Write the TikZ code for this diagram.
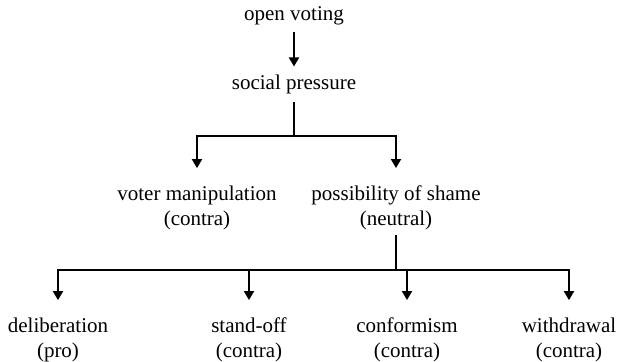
\documentclass[tikz,border=0pt]{standalone}
\usepackage{fontspec}
\setmainfont{Liberation Serif}
\usetikzlibrary{arrows.meta,positioning}

\begin{document}
\begin{tikzpicture}[
  x=0.5pt, y=-0.5pt,
  lbl/.style={font=\fontsize{10.5}{12.3}\selectfont, align=center, inner sep=0pt, outer sep=0pt},
  ln/.style={line width=0.9pt, shorten <=4pt},
  arr/.style={ln, -{Triangle[width=5pt,length=4.5pt]}, shorten >=9pt},
  >=Stealth
]
  \useasboundingbox (0,0) rectangle (617,362);

  % ── Top: open voting -> social pressure ──
  \node[lbl] (vote) at (294,16) {open voting};
  \node[lbl] (press) at (294,84) {social pressure};
  \draw[arr, shorten >=4pt, shorten <=3.5pt] (vote) -- (press);

  % ── Second level ──
  \node[lbl] (manip) at (197,208) {voter manipulation\\(contra)};
  \node[lbl] (shame) at (396,208) {possibility of shame\\(neutral)};
  \coordinate (fork1) at (294,136);
  \draw[ln] (press) -- (fork1);
  \draw[arr, shorten <=0pt] (fork1) -| (manip);
  \draw[arr, shorten <=0pt] (fork1) -| (shame);

  % ── Third level ──
  \node[lbl] (delib) at (58,340) {deliberation\\(pro)};
  \node[lbl] (stand) at (249,340) {stand-off\\(contra)};
  \node[lbl] (conf) at (407,340) {conformism\\(contra)};
  \node[lbl] (withd) at (569,340) {withdrawal\\(contra)};
  \coordinate (fork2) at (396,270);
  \draw[ln, shorten <=2.5pt] (shame) -- (fork2);
  \foreach \n in {delib,stand,conf,withd}
    \draw[arr, shorten <=0pt] (fork2) -| (\n);

\end{tikzpicture}
\end{document}
